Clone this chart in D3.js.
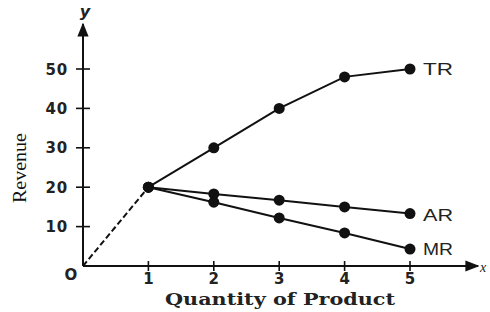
<!DOCTYPE html>
<html>
<head>
<meta charset="utf-8">
<script src="https://cdn.jsdelivr.net/npm/d3@7"></script>
<style>
  body { margin: 0; background: #fff; }
  svg { display: block; }
</style>
</head>
<body>
<script>
// data
let quantity = [1, 2, 3, 4, 5];
let tr = [20, 30, 40, 48, 50];
let ar = [20, 18.3, 16.7, 15, 13.3];
let mr = [20, 16.2, 12.2, 8.4, 4.3];
let yTicks = [10, 20, 30, 40, 50];
let xTicks = [1, 2, 3, 4, 5];

let width = 490;
let height = 312;
let svg = d3.select("body").append("svg")
  .attr("width", width)
  .attr("height", height);

let x = d3.scaleLinear().domain([0, 5]).range([83, 410]);
let y = d3.scaleLinear().domain([0, 50]).range([266, 69]);

let ink = "#111";
let sans = "'DejaVu Sans', Arial, sans-serif";
let sans2 = "'Liberation Sans', Arial, sans-serif";
let serif = "'Liberation Serif', 'Times New Roman', serif";

// arrow head
svg.append("defs").append("marker")
  .attr("id", "arrow")
  .attr("viewBox", "0 0 10 10")
  .attr("refX", 9).attr("refY", 5)
  .attr("markerWidth", 7).attr("markerHeight", 7)
  .attr("orient", "auto")
  .append("path")
  .attr("d", "M0,1 L10,5 L0,9 Z")
  .attr("fill", ink);

// axes
svg.append("line")
  .attr("x1", x(0)).attr("y1", y(0))
  .attr("x2", x(0)).attr("y2", 24)
  .attr("stroke", ink).attr("stroke-width", 2)
  .attr("marker-end", "url(#arrow)");
svg.append("line")
  .attr("x1", x(0)).attr("y1", y(0))
  .attr("x2", 478).attr("y2", y(0))
  .attr("stroke", ink).attr("stroke-width", 2)
  .attr("marker-end", "url(#arrow)");

// y ticks
svg.selectAll(".yt").data(yTicks).enter().append("line")
  .attr("x1", x(0) - 7).attr("x2", x(0) + 7)
  .attr("y1", d => y(d)).attr("y2", d => y(d))
  .attr("stroke", ink).attr("stroke-width", 1.6);
svg.selectAll(".yl").data(yTicks).enter().append("text")
  .attr("x", 68).attr("y", d => y(d) + 5.5)
  .attr("text-anchor", "end")
  .attr("font-family", sans).attr("font-size", 15).attr("font-weight", "bold")
  .attr("letter-spacing", 0.8)
  .attr("fill", "#222")
  .text(d => d);

// x ticks
svg.selectAll(".xt").data(xTicks).enter().append("line")
  .attr("x1", d => x(d)).attr("x2", d => x(d))
  .attr("y1", y(0) - 5).attr("y2", y(0) + 5)
  .attr("stroke", ink).attr("stroke-width", 1.6);
svg.selectAll(".xl").data(xTicks).enter().append("text")
  .attr("x", d => x(d)).attr("y", 284)
  .attr("text-anchor", "middle")
  .attr("font-family", sans).attr("font-size", 15).attr("font-weight", "bold")
  .attr("fill", "#222")
  .text(d => d);

// origin, axis letters
svg.append("text").attr("x", 71).attr("y", 280).attr("text-anchor", "middle")
  .attr("font-family", sans).attr("font-size", 15).attr("font-weight", "bold").attr("fill", "#222")
  .text("O");
svg.append("text").attr("x", 85).attr("y", 17).attr("text-anchor", "middle")
  .attr("font-family", sans).attr("font-size", 16).attr("font-style", "italic").attr("font-weight", "bold").attr("fill", "#222")
  .text("y");
svg.append("text").attr("x", 480).attr("y", 272)
  .attr("font-family", serif).attr("font-size", 14).attr("font-style", "italic").attr("fill", "#222")
  .text("x");

// axis titles
svg.append("text")
  .attr("transform", "translate(26,168) rotate(-90)")
  .attr("text-anchor", "middle")
  .attr("font-family", serif).attr("font-size", 19).attr("fill", "#111")
  .attr("textLength", 70).attr("lengthAdjust", "spacingAndGlyphs")
  .text("Revenue");
svg.append("text")
  .attr("x", 280).attr("y", 305)
  .attr("text-anchor", "middle")
  .attr("font-family", "'DejaVu Serif', serif").attr("font-size", 17).attr("font-weight", "bold").attr("fill", "#222")
  .attr("textLength", 230).attr("lengthAdjust", "spacingAndGlyphs")
  .text("Quantity of Product");

// dashed segment from origin to first point
svg.append("line")
  .attr("x1", x(0)).attr("y1", y(0))
  .attr("x2", x(quantity[0])).attr("y2", y(tr[0]))
  .attr("stroke", ink).attr("stroke-width", 2)
  .attr("stroke-dasharray", "6,3");

let line = d3.line().x(d => x(d[0])).y(d => y(d[1]));
let series = [
  { name: "TR", values: tr, dy: 6 },
  { name: "AR", values: ar, dy: 7 },
  { name: "MR", values: mr, dy: 6 }
];

series.forEach(s => {
  let pts = quantity.map((q, i) => [q, s.values[i]]);
  svg.append("path")
    .attr("d", line(pts))
    .attr("fill", "none")
    .attr("stroke", ink)
    .attr("stroke-width", 2);
  svg.append("g").selectAll("circle")
    .data(pts)
    .enter().append("circle")
    .attr("cx", d => x(d[0]))
    .attr("cy", d => y(d[1]))
    .attr("r", 5.5)
    .attr("fill", ink);
  svg.append("text")
    .attr("x", x(5) + 13)
    .attr("y", y(s.values[4]) + s.dy)
    .attr("font-family", sans2).attr("font-size", 16).attr("fill", "#222")
    .attr("textLength", 30).attr("lengthAdjust", "spacingAndGlyphs")
    .text(s.name);
});
</script>
</body>
</html>
